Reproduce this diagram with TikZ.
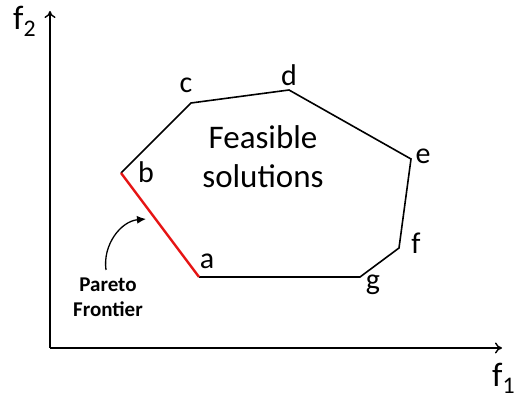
\documentclass[tikz,border=0pt]{standalone}
\usepackage{fontspec}
\setmainfont{Carlito}
\usetikzlibrary{arrows.meta}
\definecolor{FrontRed}{RGB}{230,20,20}

\begin{document}
\begin{tikzpicture}[x=1pt, y=1pt,
		lbl/.style={inner sep=0pt, anchor=base, font=\fontsize{30}{32}\selectfont},
		axislbl/.style={inner sep=0pt, anchor=base west, font=\fontsize{34}{36}\selectfont},
		axis/.style={line width=1.4pt, -{To[length=7pt, width=11pt]}}]
		\useasboundingbox (0,0) rectangle (517,401);
		% axes
		\coordinate (O) at (50,53);
		\coordinate (Ytop) at (50,390);
		\coordinate (Xend) at (502,53);
		\draw[axis] (O) -- (Ytop);
		\draw[axis] (O) -- (Xend);
		\node[axislbl] (f2) at (13,371) {f\textsubscript{2}};
		\node[axislbl] (f1) at (492,14) {f\textsubscript{1}};
		% feasible region
		\coordinate (a) at (199,124);
		\coordinate (b) at (121,228);
		\coordinate (c) at (191,298);
		\coordinate (d) at (289,311);
		\coordinate (e) at (411,242);
		\coordinate (f) at (399,153);
		\coordinate (g) at (360,124);
		\draw[line width=1.6pt, line join=miter] (b) -- (c) -- (d) -- (e) -- (f) -- (g) -- (a);
		\draw[line width=2.4pt, FrontRed] (a) -- (b);
		\node[lbl] (la) at (207,132) {a};
		\node[lbl] (lb) at (146,218) {b};
		\node[lbl] (lc) at (186,308) {c};
		\node[lbl] (ld) at (289,315) {d};
		\node[lbl] (le) at (423,237) {e};
		\node[lbl] (lf) at (416,147) {f};
		\node[lbl] (lg) at (373,111) {g};
		\node[align=center, inner sep=0pt, font=\fontsize{33}{39}\selectfont] (feas) at (263,244.5) {Feasible\\solutions};
		% pareto label
		\node[align=center, inner sep=0pt, font=\bfseries\fontsize{21}{25}\selectfont] (pareto) at (108,103.5) {Pareto\\Frontier};
		\draw[line width=1.3pt, -{Latex[length=9pt, width=8pt]}] (106,131) to[out=98, in=185] (146,182);
	\end{tikzpicture}
\end{document}
